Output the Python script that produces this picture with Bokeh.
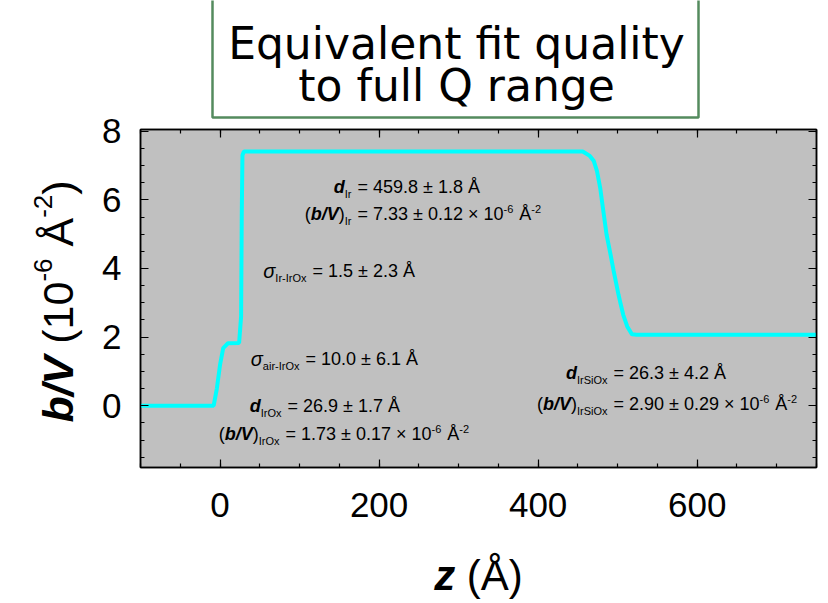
import math
from bokeh.plotting import figure
from bokeh.models import Range1d, LinearAxis, Label, SingleIntervalTicker, BoxAnnotation
from bokeh.embed import file_html
from bokeh.resources import INLINE

# ---------------- data ----------------
z_profile = [-100, -8, -4, 0, 4, 10, 24, 26.5, 27.3, 28.2, 30, 456, 465, 470, 474,
             478, 482, 486, 491, 495, 501, 503, 507, 512, 518, 524, 750]
sld_profile = [0, 0, 0.5, 1.19, 1.68, 1.82, 1.83, 2.6, 5.5, 7.3, 7.41, 7.41, 7.28, 7.13, 6.84,
               6.35, 5.67, 4.99, 4.41, 3.92, 3.24, 3.04, 2.65, 2.31, 2.08, 2.07, 2.07]

x_ticks_interval = 200
y_ticks_interval = 2
title_lines = ["Equivalent fit quality", "to full Q range"]

annotations = [
    # (equals-sign x px, baseline y px, lhs runs, rhs runs)
    (357, 193, [("d", "bi"), ("Ir", "sub")], [("= 459.8 ± 1.8 Å", "n")]),
    (357, 220, [("(", "n"), ("b/V", "bi"), (")", "n"), ("Ir", "sub")],
     [("= 7.33 ± 0.12 × 10", "n"), ("-6", "sup"), (" Å", "n"), ("-2", "sup")]),
    (312, 277, [("σ", "i"), ("Ir-IrOx", "sub")], [("= 1.5 ± 2.3 Å", "n")]),
    (305, 365, [("σ", "i"), ("air-IrOx", "sub")], [("= 10.0 ± 6.1 Å", "n")]),
    (287, 412, [("d", "bi"), ("IrOx", "sub")], [("= 26.9 ± 1.7 Å", "n")]),
    (285, 440, [("(", "n"), ("b/V", "bi"), (")", "n"), ("IrOx", "sub")],
     [("= 1.73 ± 0.17 × 10", "n"), ("-6", "sup"), (" Å", "n"), ("-2", "sup")]),
    (613, 379, [("d", "bi"), ("IrSiOx", "sub")], [("= 26.3 ± 4.2 Å", "n")]),
    (613, 410, [("(", "n"), ("b/V", "bi"), (")", "n"), ("IrSiOx", "sub")],
     [("= 2.90 ± 0.29 × 10", "n"), ("-6", "sup"), (" Å", "n"), ("-2", "sup")]),
]

# ---------------- layout ----------------
XMIN, XMAX = -100, 750
YMIN, YMAX = -1.8, 8.05
W, H = 824, 603
# where the axes box sits on the page (px)
BL, BR, BT, BB = 140, 816, 129, 467
KX = (BR - BL) / (XMAX - XMIN)
KY = (BB - BT) / (YMAX - YMIN)
X0 = XMIN - BL / KX
X1 = XMAX + (W - BR) / KX
Y1 = YMAX + BT / KY
Y0 = YMIN - (H - BB) / KY
BASELINE_FIX = 0.35   # the drawn baseline sits ~0.35 em lower than asked


def dx(px):
    return X0 + px / KX


def dy(py):
    return Y1 - py / KY


FONT = "Liberation Sans"
REG = {' ': 278, '.': 278, '=': 584, '±': 549, '×': 584, 'Å': 667, '-': 333, '(': 333,
       ')': 333, '/': 278, 'I': 278, 'r': 333, 'O': 778, 'x': 500, 'S': 667, 'i': 222,
       'a': 556, 'σ': 600, 'z': 500}
BI = {'d': 611, 'b': 611, '/': 278, 'V': 667, 'z': 500}


def cw(ch, bold):
    if ch.isdigit():
        return 556
    if bold and ch in BI:
        return BI[ch]
    return REG.get(ch, 556)


def tw(text, size, style):
    return sum(cw(c, "bold" in style) for c in text) * size / 1000.0


STYLES = {
    "n": dict(size=18, style="normal", dy=0, extra=0),
    "bi": dict(size=18, style="bold italic", dy=0, extra=0),
    "i": dict(size=20, style="italic", dy=0, extra=0),
    "sub": dict(size=11, style="normal", dy=4, extra=0),
    "sup": dict(size=11, style="normal", dy=-8, extra=1),
}

p = figure(width=W, height=H, x_range=Range1d(X0, X1), y_range=Range1d(Y0, Y1),
           output_backend="svg", toolbar_location=None,
           x_axis_location=None, y_axis_location=None,
           min_border=0, background_fill_color="white", border_fill_color="white")
p.grid.visible = False
p.outline_line_color = None

p.add_layout(BoxAnnotation(left=XMIN, right=XMAX, bottom=YMIN, top=YMAX,
                           fill_color="#C0C0C0", fill_alpha=1.0, line_color="black",
                           line_alpha=1.0, line_width=1.5, level="underlay"))


def make_axis(loc, bounds, interval, labels, standoff):
    ax = LinearAxis(fixed_location=loc, bounds=bounds,
                    ticker=SingleIntervalTicker(interval=interval, num_minor_ticks=4))
    ax.axis_line_color = "black"
    ax.axis_line_width = 1.5
    ax.major_tick_in = 8
    ax.major_tick_out = 0
    ax.minor_tick_in = 4
    ax.minor_tick_out = 0
    ax.major_tick_line_color = "black"
    ax.minor_tick_line_color = "black"
    ax.major_tick_line_width = 1.2
    ax.minor_tick_line_width = 1.2
    ax.axis_label = None
    if labels:
        ax.major_label_text_font = FONT
        ax.major_label_text_font_size = "35px"
        ax.major_label_text_color = "black"
        ax.major_label_standoff = standoff
    else:
        ax.major_label_text_color = None
    return ax


p.add_layout(make_axis(YMIN, (XMIN, XMAX), x_ticks_interval, True, 25), "below")
p.add_layout(make_axis(YMAX, (XMIN, XMAX), x_ticks_interval, False, 0), "above")
p.add_layout(make_axis(XMIN, (YMIN, YMAX), y_ticks_interval, True, 19), "left")
p.add_layout(make_axis(XMAX, (YMIN, YMAX), y_ticks_interval, False, 0), "right")

p.line(z_profile, sld_profile, line_color="#00FFFF", line_width=4)


def add_text(px, py, text, size, style, font=FONT, angle=0.0, along_y=False, align="left"):
    # leading spaces are dropped by SVG text, so turn them into an offset
    stripped = text.lstrip(" ")
    shift = (len(text) - len(stripped)) * 278 * size / 1000.0
    if along_y:
        py -= shift
    else:
        px += shift
        py -= BASELINE_FIX * size
    p.add_layout(Label(x=dx(px), y=dy(py), text=stripped,
                       text_font=font, text_font_size=f"{size}px", text_font_style=style,
                       text_align=align, text_baseline="alphabetic", text_color="black",
                       angle=angle))


# annotations in the plot
for eq_px, base_px, lhs, rhs in annotations:
    gap = 6
    total = sum(tw(t, STYLES[s]["size"], STYLES[s]["style"]) + STYLES[s]["extra"] for t, s in lhs)
    xpos = eq_px - gap - total
    for t, s in lhs + [("", "")] + rhs:
        if t == "":
            xpos = eq_px
            continue
        st = STYLES[s]
        add_text(xpos, base_px + st["dy"], t, st["size"], st["style"])
        xpos += tw(t, st["size"], st["style"]) + st["extra"]

# x axis label: bold italic z, then (Å)
XL_SIZE = 42
xl_runs = [("z", "bold italic"), (" (Å)", "normal")]
xl_w = sum(tw(t, XL_SIZE, s) for t, s in xl_runs)
xpos = (BL + BR) / 2 - xl_w / 2
for t, s in xl_runs:
    add_text(xpos, 590, t, XL_SIZE, s)
    xpos += tw(t, XL_SIZE, s)

# y axis label, rotated: b/V (10^-6 Å^-2)
YL_SIZE = 43
SUP = 26
yl_runs = [("b/V", "bold italic", YL_SIZE, 0), (" (10", "normal", YL_SIZE, 0),
           ("-6", "normal", SUP, 15), (" Å", "normal", YL_SIZE, 0),
           ("-2", "normal", SUP, 15), (")", "normal", YL_SIZE, 0)]
yl_w = sum(tw(t, sz, s) for t, s, sz, _ in yl_runs)
ypos = (BT + BB) / 2 + yl_w / 2 + 3   # bottom of the rotated text (page px)
BASE_X = 57
for t, s, sz, up in yl_runs:
    add_text(BASE_X - up, ypos, t, sz, s, angle=math.pi / 2, along_y=True)
    ypos -= tw(t, sz, s)

# title box (its top runs off the page, as in the reference)
p.add_layout(BoxAnnotation(left=dx(212), right=dx(698), bottom=dy(117), top=dy(-30),
                           fill_alpha=0.0, line_color="#548B5E", line_alpha=1.0,
                           line_width=2.5))
for line, base in zip(title_lines, [58, 100]):
    add_text(456, base, line, 44, "normal", font="DejaVu Sans", align="center")

open("out.html", "w").write(file_html(p, INLINE))
